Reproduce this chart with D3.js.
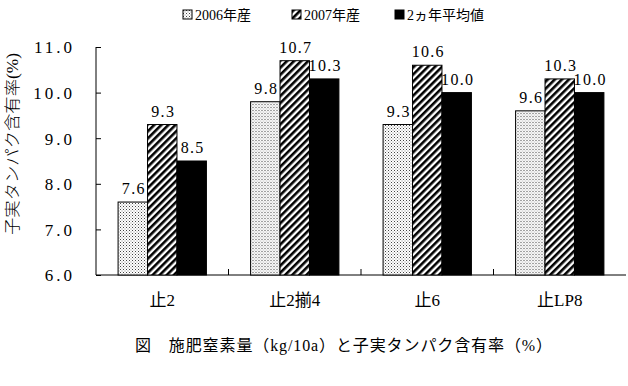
<!DOCTYPE html>
<html>
<head>
<meta charset="utf-8">
<script src="https://cdn.jsdelivr.net/npm/d3@7"></script>
<style>
  body { margin: 0; background: #fff; }
</style>
</head>
<body>
<div id="chart"></div>
<script>
// values
var categories = ['止2', '止2揃4', '止6', '止LP8'];
var seriesNames = ['2006年産', '2007年産', '2ヵ年平均値'];
var v2006 = [7.6, 9.8, 9.3, 9.6];
var v2007 = [9.3, 10.7, 10.6, 10.3];
var vAvg = [8.5, 10.3, 10.0, 10.0];
var yTicks = [6, 7, 8, 9, 10, 11];

var serif = "'Liberation Serif', 'Noto Sans CJK JP', serif";

var svgWidth = 628, svgHeight = 386;
var margin = { top: 47, right: 2, bottom: 111, left: 96 };
var width = svgWidth - margin.left - margin.right;
var height = svgHeight - margin.top - margin.bottom;

var svg = d3.select('#chart').append('svg')
    .attr('width', svgWidth)
    .attr('height', svgHeight)
    .style('font-family', serif);

// fill patterns
var defs = svg.append('defs');
var dots = defs.append('pattern')
    .attr('id', 'dots')
    .attr('patternUnits', 'userSpaceOnUse')
    .attr('width', 3).attr('height', 3);
dots.append('rect').attr('width', 3).attr('height', 3).attr('fill', '#fff');
dots.append('rect').attr('x', 0).attr('y', 0).attr('width', 1).attr('height', 1).attr('fill', '#444');
dots.append('rect').attr('x', 1.5).attr('y', 1.5).attr('width', 1).attr('height', 1).attr('fill', '#888');

var stripes = defs.append('pattern')
    .attr('id', 'stripes')
    .attr('patternUnits', 'userSpaceOnUse')
    .attr('width', 5).attr('height', 5)
    .attr('patternTransform', 'rotate(45)');
stripes.append('rect').attr('width', 5).attr('height', 5).attr('fill', '#fff');
stripes.append('rect').attr('width', 2.6).attr('height', 5).attr('fill', '#000');

var fills = ['url(#dots)', 'url(#stripes)', '#000'];
var series = [v2006, v2007, vAvg];

var g = svg.append('g')
    .attr('transform', 'translate(' + margin.left + ',' + margin.top + ')');

var x0 = d3.scaleBand()
    .domain(categories)
    .range([0, width])
    .paddingInner(0)
    .paddingOuter(0);

var x1 = d3.scaleBand()
    .domain(d3.range(series.length))
    .range([0, x0.bandwidth()])
    .paddingOuter(0.75)
    .paddingInner(0);

var y = d3.scaleLinear()
    .domain([6, 11])
    .range([height, 0]);

// y axis
var yAxis = g.append('g')
    .call(d3.axisLeft(y).tickValues(yTicks).tickSize(-5).tickPadding(24)
        .tickFormat(d3.format('.1f')));
yAxis.attr('font-family', null);
yAxis.select('.domain').attr('d', 'M0,0V' + height).attr('stroke', '#000');
yAxis.selectAll('.tick line').attr('stroke', '#000');
yAxis.selectAll('.tick text')
    .style('font-family', serif)
    .style('font-size', '17px')
    .style('letter-spacing', '3px')
    .attr('fill', '#000')
    .attr('dx', 3)
    .attr('dy', '0.35em');

// x axis
g.append('line')
    .attr('x1', 0).attr('x2', width)
    .attr('y1', height).attr('y2', height)
    .attr('stroke', '#000');

g.selectAll('.cat-tick')
    .data(categories.slice(1))
    .enter().append('line')
    .attr('class', 'cat-tick')
    .attr('x1', d => x0(d)).attr('x2', d => x0(d))
    .attr('y1', height).attr('y2', height - 6)
    .attr('stroke', '#000');

g.selectAll('.cat-label')
    .data(categories)
    .enter().append('text')
    .attr('class', 'cat-label')
    .attr('x', d => x0(d) + x0.bandwidth() / 2)
    .attr('y', height + 31)
    .attr('text-anchor', 'middle')
    .style('font-family', serif)
    .style('font-size', '17px')
    .text(d => d);

// bars
var groups = g.selectAll('.grp')
    .data(categories)
    .enter().append('g')
    .attr('class', 'grp')
    .attr('transform', d => 'translate(' + x0(d) + ',0)');

groups.selectAll('rect')
    .data((d, i) => series.map((s, k) => ({ k: k, v: s[i] })))
    .enter().append('rect')
    .attr('x', d => x1(d.k))
    .attr('y', d => y(d.v))
    .attr('width', x1.bandwidth())
    .attr('height', d => height - y(d.v))
    .attr('fill', d => fills[d.k])
    .attr('stroke', '#000')
    .attr('stroke-width', 1);

groups.selectAll('.val')
    .data((d, i) => series.map((s, k) => ({ k: k, v: s[i] })))
    .enter().append('text')
    .attr('class', 'val')
    .attr('x', d => x1(d.k) + x1.bandwidth() / 2 + 1)
    .attr('y', d => y(d.v) - 8)
    .attr('text-anchor', 'middle')
    .style('font-family', serif)
    .style('font-size', '16px')
    .style('letter-spacing', '1.3px')
    .text(d => d3.format('.1f')(d.v));

// y axis title
svg.append('text')
    .attr('transform', 'translate(12,144) rotate(-90)')
    .attr('x', -91)
    .attr('dy', '0.35em')
    .attr('textLength', 182)
    .attr('lengthAdjust', 'spacingAndGlyphs')
    .style('font-family', serif)
    .style('font-size', '16px')
    .style('font-weight', 300)
    .text('子実タンパク含有率(%)');

// legend
var legendX = [183, 292, 395];
var legend = svg.selectAll('.key')
    .data(seriesNames)
    .enter().append('g')
    .attr('class', 'key')
    .attr('transform', (d, i) => 'translate(' + legendX[i] + ',10)');

legend.append('rect')
    .attr('width', 9).attr('height', 9)
    .attr('fill', (d, i) => fills[i])
    .attr('stroke', '#000');

legend.append('text')
    .attr('x', 12)
    .attr('y', 10)
    .style('font-family', serif)
    .style('font-size', '14px')
    .text(d => d);

// caption
svg.append('text')
    .attr('x', 135)
    .attr('y', 351)
    .attr('textLength', 417)
    .attr('lengthAdjust', 'spacing')
    .style('font-family', serif)
    .style('font-size', '16px')
    .text('図　施肥窒素量（kg/10a）と子実タンパク含有率（%）');
</script>
</body>
</html>
